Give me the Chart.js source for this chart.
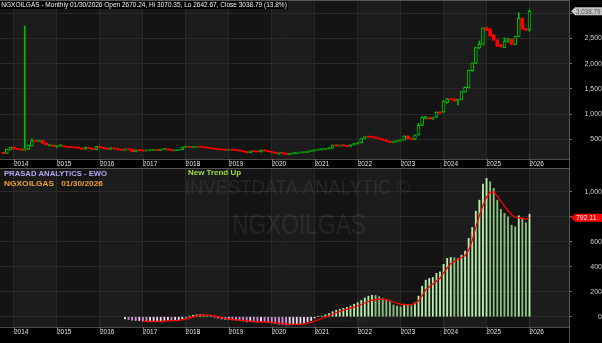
<!DOCTYPE html>
<html>
<head>
<meta charset="utf-8">
<script src="https://cdn.jsdelivr.net/npm/chart.js@4"></script>
<style>
  html, body { margin: 0; padding: 0; background: #000; }
  #wrap { position: relative; width: 602px; height: 343px; overflow: hidden; background: #000; }
  canvas { position: absolute; left: 0; }
  #top { top: 0; }
  #bot { top: 168px; }
</style>
</head>
<body>
<div id="wrap">
  <canvas id="top" width="602" height="168"></canvas>
  <canvas id="bot" width="602" height="175"></canvas>
</div>
<script>
// NGXOILGAS monthly, Oct 2013 (index 0) .. Jan 2026 (index 147)
const FONT = 'Liberation Sans';

const yearTicks = [3, 15, 27, 39, 51, 63, 75, 87, 99, 111, 123, 135, 147];
const yearLabels = ['2014', '2015', '2016', '2017', '2018', '2019', '2020', '2021', '2022', '2023', '2024', '2025', '2026'];

const opens = [
  230, 222, 290,
  340, 315, 300, 285, 300, 370, 470, 460, 475, 425, 375, 385,
  360, 365, 368, 355, 340, 335, 330, 325, 305, 340, 320, 295,
  355, 335, 315, 305, 330, 310, 295, 285, 305, 300, 255, 285,
  275, 270, 278, 282, 287, 280, 300, 305, 290, 275, 280, 295,
  345, 355, 340, 345, 350, 345, 335, 325, 315, 305, 295, 290,
  285, 300, 285, 280, 270, 255, 235, 265, 255, 250, 285, 270,
  255, 240, 225, 235, 220, 200, 215, 220, 230, 235, 240, 260,
  270, 290, 295, 300, 315, 325, 385, 370, 375, 372, 360, 390,
  415, 435, 515, 550, 545, 540, 525, 505, 485, 460, 440, 455,
  470, 485, 565, 513, 500, 585, 777, 916, 930, 905, 937, 1040,
  1042, 1233, 1300, 1300, 1260, 1293, 1440, 1525, 1860, 2010, 2315, 2385,
  2715, 2685, 2570, 2470, 2380, 2320, 2445, 2485, 2380, 2540, 2901, 2690,
  2670.24
];
const highs = [
  240, 305, 345,
  350, 320, 305, 2748, 390, 510, 480, 485, 478, 430, 400, 388,
  370, 400, 372, 360, 345, 340, 335, 330, 345, 345, 325, 360,
  365, 340, 320, 335, 335, 315, 300, 310, 310, 305, 290, 290,
  280, 280, 285, 290, 290, 305, 310, 310, 295, 285, 300, 350,
  365, 360, 350, 355, 360, 350, 340, 330, 320, 310, 300, 295,
  305, 305, 290, 285, 275, 260, 270, 270, 265, 290, 290, 275,
  260, 245, 240, 240, 225, 220, 225, 235, 240, 245, 265, 275,
  295, 300, 305, 320, 330, 390, 390, 380, 385, 380, 395, 420,
  440, 520, 555, 560, 555, 548, 530, 510, 490, 465, 460, 475,
  490, 570, 570, 520, 590, 817, 945, 955, 935, 940, 1045, 1050,
  1260, 1310, 1305, 1305, 1300, 1450, 1540, 1875, 2015, 2325, 2450, 2710,
  2725, 2690, 2575, 2475, 2385, 2510, 2505, 2490, 2545, 3012, 2910, 2700,
  3070.35
];
const lows = [
  215, 220, 285,
  300, 295, 280, 280, 295, 365, 455, 455, 420, 385, 365, 355,
  340, 360, 350, 335, 330, 325, 320, 300, 300, 315, 290, 290,
  330, 310, 300, 300, 305, 290, 280, 280, 290, 250, 250, 270,
  265, 265, 270, 275, 275, 278, 290, 285, 270, 270, 275, 290,
  335, 335, 335, 340, 340, 330, 320, 310, 300, 290, 285, 280,
  280, 280, 275, 265, 250, 230, 230, 250, 245, 245, 265, 250,
  235, 220, 200, 215, 195, 195, 205, 215, 225, 228, 235, 255,
  265, 280, 285, 295, 305, 320, 365, 360, 365, 355, 355, 385,
  405, 430, 505, 535, 530, 520, 500, 480, 455, 435, 430, 445,
  460, 480, 505, 495, 495, 580, 770, 905, 900, 895, 930, 1015,
  1030, 1220, 1285, 1255, 1180, 1285, 1430, 1520, 1850, 2000, 2300, 2375,
  2655, 2545, 2465, 2345, 2330, 2315, 2420, 2375, 2375, 2535, 2680, 2655,
  2642.67
];
const closes = [
  222, 300, 340,
  315, 300, 285, 300, 385, 470, 460, 478, 425, 392, 385, 360,
  365, 368, 355, 340, 335, 330, 325, 305, 340, 320, 295, 355,
  335, 315, 305, 330, 310, 295, 285, 305, 292, 255, 285, 275,
  270, 278, 282, 287, 280, 300, 305, 290, 275, 280, 295, 345,
  355, 340, 345, 350, 345, 335, 325, 315, 305, 295, 290, 285,
  300, 285, 280, 270, 255, 235, 265, 255, 250, 285, 270, 255,
  240, 225, 235, 220, 200, 215, 220, 230, 235, 240, 260, 270,
  290, 295, 300, 315, 325, 385, 370, 375, 372, 360, 390, 415,
  435, 515, 550, 545, 540, 525, 505, 485, 460, 440, 455, 470,
  485, 565, 513, 500, 585, 777, 936, 950, 903, 932, 1042, 1020,
  1253, 1300, 1290, 1260, 1293, 1445, 1532, 1870, 2010, 2320, 2385, 2705,
  2660, 2550, 2470, 2350, 2335, 2445, 2500, 2380, 2540, 2901, 2690, 2670,
  3038.79
];
const priceTicks = [500, 1000, 1500, 2000, 2500, 3000];

// EWO histogram from index 34 (Aug 2016), signal line from index 39 (Jan 2017)
const ewoStart = 34;
const ewo = [
  -18, -22, -28, -30, -30,
  -36, -38, -38, -37, -36, -33, -30, -30, -32, -30, -25, -15,
  -5, 5, 12, 15, 16, 14, 10, 3, -5, -12, -18, -22,
  -22, -25, -28, -30, -35, -42, -40, -42, -45, -40, -42, -45,
  -50, -55, -60, -62, -65, -65, -62, -58, -55, -50, -40, -30,
  -10, 3, 5, 15, 25, 40, 52, 60, 68, 75, 85, 100,
  112, 130, 150, 165, 172, 170, 160, 147, 139, 120, 93, 85,
  80, 101, 93, 88, 112, 165, 245, 293, 307, 315, 347, 360,
  419, 467, 475, 472, 467, 493, 525, 627, 715, 845, 933, 1061,
  1107, 1080, 1027, 933, 859, 827, 800, 733, 720, 808, 787, 752,
  821
];
const sigStart = 39;
const signal = [
  -35, -37, -38, -38, -38, -37, -35, -33, -32, -31, -29, -25,
  -18, -10, -2, 6, 11, 13, 13, 11, 6, 0, -7, -13,
  -18, -22, -25, -27, -30, -33, -36, -38, -40, -41, -42, -43,
  -45, -48, -52, -55, -58, -60, -61, -61, -59, -56, -51, -44,
  -35, -25, -14, -3, 8, 20, 32, 43, 53, 62, 70, 78,
  88, 98, 110, 122, 132, 138, 140, 140, 137, 130, 118, 108,
  100, 98, 97, 97, 105, 125, 170, 215, 240, 262, 285, 307,
  350, 390, 425, 445, 460, 472, 490, 533, 610, 715, 810, 890,
  960, 995, 1000, 965, 925, 885, 850, 815, 795, 792, 788, 781,
  792.11
];
const ewoTicks = [0, 200, 400, 600, 800, 1000];

const lastClose = 3038.79;
const lastSignal = 792.11;

// x range: index scale, 3.58 px per month
const xMin = -0.908, xMax = 158.03;

// Helpers
function fitText(ctx, text, x, y, w, font, color) {
  ctx.save();
  ctx.font = font;
  ctx.fillStyle = color;
  ctx.textBaseline = 'middle';
  ctx.textAlign = 'left';
  const m = ctx.measureText(text).width;
  ctx.translate(x, y);
  ctx.scale(w / m, 1);
  ctx.fillText(text, 0, 0);
  ctx.restore();
}

function priceTag(ctx, y, text, fill, color, textW) {
  ctx.save();
  ctx.fillStyle = fill;
  ctx.beginPath();
  ctx.moveTo(571, y);
  ctx.lineTo(575, y - 4);
  ctx.lineTo(602, y - 4);
  ctx.lineTo(602, y + 4);
  ctx.lineTo(575, y + 4);
  ctx.closePath();
  ctx.fill();
  ctx.restore();
  fitText(ctx, text, 576, y + 0.5, textW, '7px ' + FONT, color);
}

const fmt = (v) => v.toLocaleString('en-US');

// Alternating yearly background bands
const bands = {
  id: 'bands',
  beforeDraw(chart) {
    const { ctx, chartArea: a, scales: { x } } = chart;
    ctx.save();
    ctx.fillStyle = '#000';
    ctx.fillRect(0, 0, chart.width, chart.height);
    const edges = [xMin, ...yearTicks, xMax];
    for (let k = 0; k < edges.length - 1; k++) {
      const x0 = x.getPixelForValue(edges[k]);
      const x1 = x.getPixelForValue(edges[k + 1]);
      ctx.fillStyle = k % 2 ? '#1c1c1c' : '#141414';
      ctx.fillRect(x0, a.top, x1 - x0, a.bottom - a.top);
    }
    ctx.restore();
  },
  afterDraw(chart) {
    const { ctx, chartArea: a, scales: { x } } = chart;
    ctx.save();
    ctx.strokeStyle = '#777';
    ctx.lineWidth = 1;
    yearTicks.forEach(t => {
      const px = Math.round(x.getPixelForValue(t)) + 0.5;
      ctx.beginPath();
      ctx.moveTo(px, a.bottom);
      ctx.lineTo(px, a.bottom + 5);
      ctx.stroke();
    });
    ctx.strokeStyle = '#555';
    ctx.beginPath();
    ctx.moveTo(a.right + 0.5, 0);
    ctx.lineTo(a.right + 0.5, chart.height);
    ctx.stroke();
    ctx.restore();
  }
};

const topDecor = {
  id: 'topDecor',
  afterDraw(chart) {
    const { ctx, chartArea: a, scales: { y } } = chart;
    ctx.save();
    ctx.strokeStyle = '#555';
    ctx.beginPath();
    ctx.moveTo(0, 0.5);
    ctx.lineTo(a.right, 0.5);
    ctx.stroke();
    ctx.fillStyle = '#000';
    ctx.fillRect(0, 1, 288, 8);
    ctx.restore();
    fitText(ctx, 'NGXOILGAS - Monthly 01/30/2026 Open 2670.24, Hi 3070.35, Lo 2642.67, Close 3038.79 (13.8%)',
      1.3, 5, 285.5, '7.5px ' + FONT, '#f0f0f0');
    priceTag(ctx, y.getPixelForValue(lastClose), '3,038.79', '#c4c4c4', '#505050', 24.5);
  }
};

const botDecor = {
  id: 'botDecor',
  beforeDatasetsDraw(chart) {
    const { ctx } = chart;
    fitText(ctx, 'INVESTDATA ANALYTIC \u00a9', 185, 20, 225, '20px ' + FONT, 'rgba(255,255,255,0.08)');
    fitText(ctx, 'NGXOILGAS', 232, 57.5, 134, '29px ' + FONT, 'rgba(255,255,255,0.07)');
    fitText(ctx, 'KRISHNA RAO', 323, 152, 47, '7px ' + FONT, 'rgba(255,255,255,0.08)');
  },
  afterDraw(chart) {
    const { ctx, chartArea: a, scales: { y } } = chart;
    ctx.save();
    ctx.strokeStyle = '#555';
    ctx.beginPath();
    ctx.moveTo(0, 0.5);
    ctx.lineTo(a.right, 0.5);
    ctx.stroke();
    ctx.restore();
    fitText(ctx, 'PRASAD ANALYTICS - EWO', 4, 5.7, 103, 'bold 7px ' + FONT, '#b0a8f0');
    fitText(ctx, 'NGXOILGAS   01/30/2026', 4, 16, 99, 'bold 7px ' + FONT, '#f0a030');
    fitText(ctx, 'New Trend Up', 188, 5.5, 53, 'bold 7px ' + FONT, '#98e040');
    priceTag(ctx, y.getPixelForValue(lastSignal), '792.11', '#ff0000', '#ffffff', 20.5);
  }
};

// Build datasets
const idx = closes.map((_, i) => i);
const up = idx.map(i => closes[i] >= opens[i]);
const wickData = idx.map(i => ({ x: i, y: [lows[i], highs[i]] }));
const bodyData = idx.map(i => ({ x: i, y: [Math.min(opens[i], closes[i]), Math.max(opens[i], closes[i])] }));
const GREEN = '#00c000', RED = '#ff0000';

const xScale = (height) => ({
  type: 'linear', min: xMin, max: xMax, offset: false,
  afterBuildTicks: (s) => { s.ticks = yearTicks.map(v => ({ value: v })); },
  afterFit: (s) => { s.height = height; s.paddingLeft = 0; s.paddingRight = 0; },
  grid: { offset: false, color: '#2a2a2a', drawTicks: false },
  border: { color: '#4a4a4a' },
  ticks: {
    align: 'start', padding: 1, color: '#e0e0e0', maxRotation: 0, autoSkip: false,
    font: { family: FONT, size: 6.5 },
    callback: (v) => yearLabels[yearTicks.indexOf(v)] || ''
  }
});

const yScale = (min, max, ticks, hidden) => ({
  position: 'right', min, max,
  afterBuildTicks: (s) => { s.ticks = ticks.map(v => ({ value: v })); },
  afterFit: (s) => { s.width = 33; s.paddingTop = 0; s.paddingBottom = 0; },
  grid: { color: '#2a2a2a', tickColor: '#777', tickLength: 3 },
  border: { color: '#4a4a4a' },
  ticks: {
    crossAlign: 'far', padding: 10, color: '#d0d0d0',
    font: { family: FONT, size: 7 },
    callback: (v) => (v === hidden ? '' : fmt(v))
  }
});

new Chart(document.getElementById('top'), {
  type: 'bar',
  data: {
    datasets: [
      {
        label: 'wick', data: wickData, order: 2, grouped: false, barThickness: 1,
        backgroundColor: idx.map(i => (up[i] ? GREEN : RED))
      },
      {
        label: 'body', data: bodyData, order: 1, grouped: false, barThickness: 3, minBarLength: 1,
        backgroundColor: idx.map(i => (up[i] ? '#161616' : RED)),
        borderColor: idx.map(i => (up[i] ? GREEN : RED)),
        borderWidth: idx.map(i => (up[i] ? 1 : 0)),
        borderSkipped: false
      }
    ]
  },
  options: {
    responsive: false, animation: false, devicePixelRatio: 1,
    layout: { padding: { top: 1, left: 0, right: 0, bottom: 0 } },
    plugins: { legend: { display: false }, tooltip: { enabled: false } },
    scales: { x: xScale(9), y: yScale(109, 3244, priceTicks, 3000) }
  },
  plugins: [bands, topDecor]
});

const ewoColors = ewo.map((v, k) => {
  const rising = k === 0 ? true : v >= ewo[k - 1];
  if (v >= 0) return rising ? '#b4eea8' : '#88c080';
  return rising ? '#f4d4f4' : '#d090d8';
});

new Chart(document.getElementById('bot'), {
  type: 'bar',
  data: {
    datasets: [
      {
        type: 'line', label: 'signal', order: 1,
        data: signal.map((v, k) => ({ x: sigStart + k, y: v })),
        borderColor: '#ff0000', borderWidth: 1.3, pointRadius: 0, tension: 0
      },
      {
        label: 'EWO', order: 2, grouped: false, barThickness: 1.2,
        data: ewo.map((v, k) => ({ x: ewoStart + k, y: v })),
        backgroundColor: ewoColors
      }
    ]
  },
  options: {
    responsive: false, animation: false, devicePixelRatio: 1,
    layout: { padding: 0 },
    plugins: { legend: { display: false }, tooltip: { enabled: false } },
    scales: { x: xScale(16), y: yScale(-82, 1190, ewoTicks, 800) }
  },
  plugins: [bands, botDecor]
});
</script>
</body>
</html>
